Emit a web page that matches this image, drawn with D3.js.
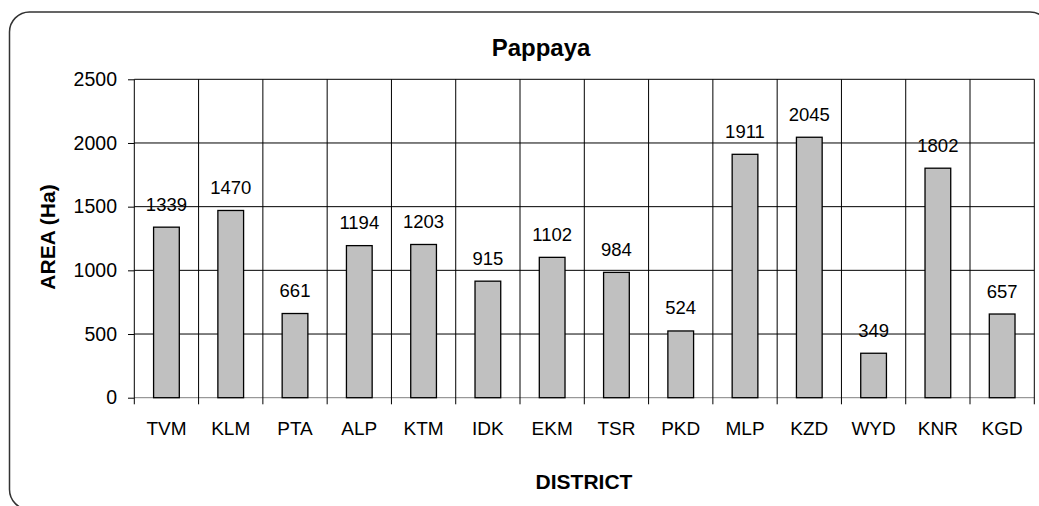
<!DOCTYPE html>
<html>
  <head>
    <meta charset="utf-8" />
    <script src="https://d3js.org/d3.v7.min.js"></script>
    <style>
      body { margin: 0; background: #fff; }
      svg { display: block; font-family: "Liberation Sans", Arial, sans-serif; }
    </style>
  </head>
  <body>
    <div id="chart"></div>
    <script>
      // districts and cultivated area (Ha)
      const districts = ["TVM", "KLM", "PTA", "ALP", "KTM", "IDK", "EKM", "TSR", "PKD", "MLP", "KZD", "WYD", "KNR", "KGD"];
      const area = [1339, 1470, 661, 1194, 1203, 915, 1102, 984, 524, 1911, 2045, 349, 1802, 657];
      const yTicks = [0, 500, 1000, 1500, 2000, 2500];

      const width = 1039;
      const height = 506;
      const plot = { left: 134.3, right: 1034.3, top: 79.3, bottom: 397.7 };

      const svg = d3.select("#chart").append("svg").attr("width", width).attr("height", height);

      // rounded outer frame (runs off the right and bottom edges)
      svg
        .append("rect")
        .attr("x", 9.5)
        .attr("y", 12)
        .attr("width", 1040.5)
        .attr("height", 497.5)
        .attr("rx", 20)
        .attr("fill", "none")
        .attr("stroke", "#333")
        .attr("stroke-width", 1.5);

      const x = d3.scaleBand().domain(districts).range([plot.left, plot.right]).padding(0);
      const y = d3.scaleLinear().domain([0, 2500]).range([plot.bottom, plot.top]);

      // horizontal grid lines
      svg
        .append("g")
        .selectAll("line")
        .data(yTicks)
        .enter()
        .append("line")
        .attr("x1", plot.left)
        .attr("x2", plot.right)
        .attr("y1", (d) => y(d))
        .attr("y2", (d) => y(d))
        .attr("stroke", (d) => (d == 0 ? "#808080" : "#000"))
        .attr("stroke-width", 1);

      // vertical grid lines between categories, running down as ticks
      const bounds = districts.map((d) => x(d)).concat([plot.right]);
      svg
        .append("g")
        .selectAll("line")
        .data(bounds)
        .enter()
        .append("line")
        .attr("x1", (d) => d)
        .attr("x2", (d) => d)
        .attr("y1", plot.top)
        .attr("y2", plot.bottom + 6.6)
        .attr("stroke", "#000")
        .attr("stroke-width", 1);

      // y axis with tick labels
      const yAxis = svg
        .append("g")
        .attr("transform", `translate(${plot.left},0)`)
        .call(d3.axisLeft(y).tickValues(yTicks).tickSize(6.3).tickPadding(11).tickFormat(d3.format("d")));
      yAxis.select(".domain").remove();
      yAxis.selectAll("line").attr("stroke", "#000");
      yAxis.selectAll("text").attr("font-size", 19.5).attr("fill", "#000").attr("font-family", "Liberation Sans, Arial");

      // x axis category labels
      const xAxis = svg
        .append("g")
        .attr("transform", `translate(0,${plot.bottom})`)
        .call(d3.axisBottom(x).tickSize(0).tickPadding(23.8));
      xAxis.select(".domain").remove();
      xAxis.selectAll("text").attr("font-size", 19).attr("fill", "#000").attr("font-family", "Liberation Sans, Arial");

      // bars
      const barW = x.bandwidth() * 0.4;
      svg
        .append("g")
        .selectAll("rect")
        .data(area)
        .enter()
        .append("rect")
        .attr("x", (d, i) => x(districts[i]) + (x.bandwidth() - barW) / 2)
        .attr("y", (d) => y(d))
        .attr("width", barW)
        .attr("height", (d) => y(0) - y(d))
        .attr("fill", "#c0c0c0")
        .attr("stroke", "#000")
        .attr("stroke-width", 1.3);

      // value labels above bars
      svg
        .append("g")
        .selectAll("text")
        .data(area)
        .enter()
        .append("text")
        .attr("x", (d, i) => x(districts[i]) + x.bandwidth() / 2)
        .attr("y", (d) => y(d) - 16.5)
        .attr("text-anchor", "middle")
        .attr("font-size", 18.5)
        .attr("fill", "#000")
        .text((d) => d);

      // title and axis titles
      svg
        .append("text")
        .attr("x", 541)
        .attr("y", 56)
        .attr("text-anchor", "middle")
        .attr("font-size", 24)
        .attr("font-weight", "bold")
        .text("Pappaya");

      svg
        .append("text")
        .attr("transform", "translate(55,237) rotate(-90)")
        .attr("text-anchor", "middle")
        .attr("font-size", 21)
        .attr("font-weight", "bold")
        .text("AREA (Ha)");

      svg
        .append("text")
        .attr("x", 584)
        .attr("y", 489)
        .attr("text-anchor", "middle")
        .attr("font-size", 21)
        .attr("font-weight", "bold")
        .text("DISTRICT");
    </script>
  </body>
</html>
